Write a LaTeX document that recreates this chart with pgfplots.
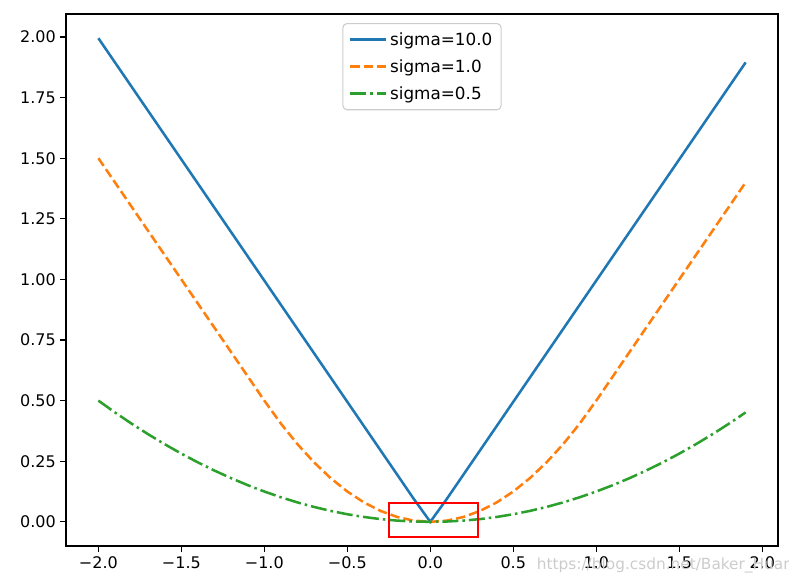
\documentclass[border=0pt]{standalone}
\usepackage{pgfplots}
\pgfplotsset{compat=1.18}
\usepackage{fontspec}
\setmainfont{DejaVu Sans}
\definecolor{mplblue}{HTML}{1F77B4}
\definecolor{mplorange}{HTML}{FF7F0E}
\definecolor{mplgreen}{HTML}{2CA02C}
\begin{document}
\begin{tikzpicture}
\useasboundingbox (-49.5pt,-24.75pt) rectangle (542.25pt,409.5pt);
\begin{axis}[
  at={(0pt,0pt)}, anchor=south west,
  scale only axis, width=534pt, height=399pt,
  xmin=-2.195, xmax=2.095, ymin=-0.09975, ymax=2.09475,
  xtick={-2,-1.5,...,2}, ytick={0,0.25,...,2},
  xticklabels={−2.0,−1.5,−1.0,−0.5,0.0,0.5,1.0,1.5,2.0},
  yticklabels={0.00,0.25,0.50,0.75,1.00,1.25,1.50,1.75,2.00},
  tick label style={font=\fontsize{12}{14}\selectfont},
  xticklabel style={inner sep=3.5pt},
  yticklabel style={inner sep=3pt},
  tick align=outside, tick pos=left,
  major tick length=4.5pt,
  axis line style={black, line width=1pt},
  every tick/.style={black, line width=1pt},
  legend style={at={(0.5,0.983)}, anchor=north, draw=black!20, line width=0.8pt, rounded corners=3pt,
    font=\fontsize{12.6}{14}\selectfont, row sep=5.2pt, inner xsep=4.5pt, inner ysep=4.5pt},
  legend image code/.code={\draw[#1] (0pt,0pt) -- (27pt,0pt);},
  legend cell align=left,
  clip=false,
]
\addplot[mplblue, line width=1.9pt] coordinates {
(-2.0,1.995)(-1.9,1.895)(-1.8,1.795)(-1.7,1.695)(-1.6,1.595)(-1.5,1.495)(-1.4,1.395)(-1.3,1.295)(-1.2,1.195)(-1.1,1.095)
(-1.0,0.995)(-0.9,0.895)(-0.8,0.795)(-0.7,0.695)(-0.6,0.595)(-0.5,0.495)(-0.4,0.395)(-0.3,0.295)(-0.2,0.195)(-0.1,0.095)
(0.0,0.0)(0.1,0.095)(0.2,0.195)(0.3,0.295)(0.4,0.395)(0.5,0.495)(0.6,0.595)(0.7,0.695)(0.8,0.795)(0.9,0.895)
(1.0,0.995)(1.1,1.095)(1.2,1.195)(1.3,1.295)(1.4,1.395)(1.5,1.495)(1.6,1.595)(1.7,1.695)(1.8,1.795)(1.9,1.895)};
\addlegendentry{sigma=10.0}
\addplot[mplorange, line width=1.9pt, dash pattern=on 7pt off 3pt] coordinates {
(-2.0,1.5)(-1.9,1.4)(-1.8,1.3)(-1.7,1.2)(-1.6,1.1)(-1.5,1.0)(-1.4,0.9)(-1.3,0.8)(-1.2,0.7)(-1.1,0.6)
(-1.0,0.5)(-0.9,0.405)(-0.8,0.32)(-0.7,0.245)(-0.6,0.18)(-0.5,0.125)(-0.4,0.08)(-0.3,0.045)(-0.2,0.02)(-0.1,0.005)
(0.0,0.0)(0.1,0.005)(0.2,0.02)(0.3,0.045)(0.4,0.08)(0.5,0.125)(0.6,0.18)(0.7,0.245)(0.8,0.32)(0.9,0.405)
(1.0,0.5)(1.1,0.6)(1.2,0.7)(1.3,0.8)(1.4,0.9)(1.5,1.0)(1.6,1.1)(1.7,1.2)(1.8,1.3)(1.9,1.4)};
\addlegendentry{sigma=1.0}
\addplot[mplgreen, line width=1.9pt, dash pattern=on 12pt off 3pt on 1.9pt off 3pt] coordinates {
(-2.0,0.5)(-1.9,0.45125)(-1.8,0.405)(-1.7,0.36125)(-1.6,0.32)(-1.5,0.28125)(-1.4,0.245)(-1.3,0.21125)(-1.2,0.18)(-1.1,0.15125)
(-1.0,0.125)(-0.9,0.10125)(-0.8,0.08)(-0.7,0.06125)(-0.6,0.045)(-0.5,0.03125)(-0.4,0.02)(-0.3,0.01125)(-0.2,0.005)(-0.1,0.00125)
(0.0,0.0)(0.1,0.00125)(0.2,0.005)(0.3,0.01125)(0.4,0.02)(0.5,0.03125)(0.6,0.045)(0.7,0.06125)(0.8,0.08)(0.9,0.10125)
(1.0,0.125)(1.1,0.15125)(1.2,0.18)(1.3,0.21125)(1.4,0.245)(1.5,0.28125)(1.6,0.32)(1.7,0.36125)(1.8,0.405)(1.9,0.45125)};
\addlegendentry{sigma=0.5}
\draw[red, line width=1.5pt] (axis cs:-0.247,-0.061) rectangle (axis cs:0.289,0.0756);
\end{axis}
\node[anchor=base west, text=black!20, font=\fontsize{11.5}{14}\selectfont, inner sep=0pt] at (353pt,-17.5pt) {https://blog.csdn.net/Baker\_Huang};
\end{tikzpicture}
\end{document}
